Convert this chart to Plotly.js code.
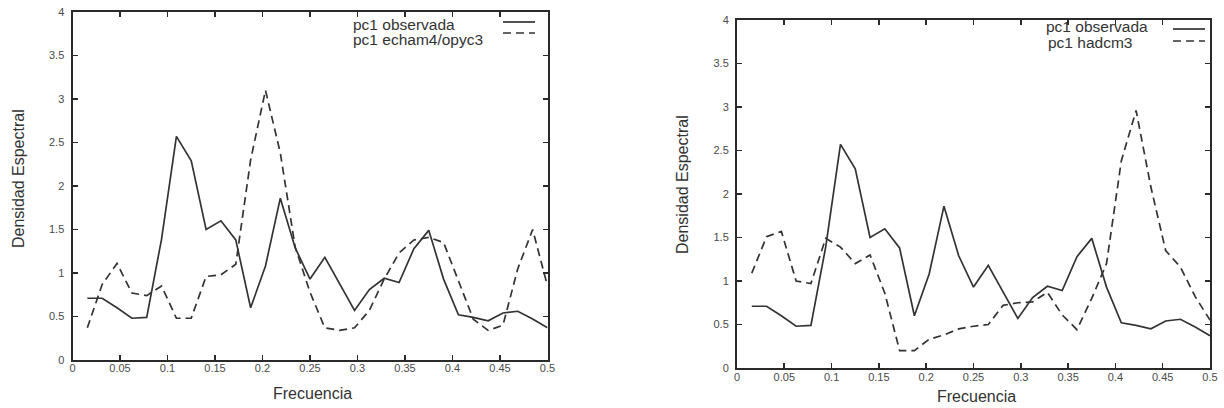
<!DOCTYPE html>
<html><head><meta charset="utf-8">
<script src="https://cdn.plot.ly/plotly-3.0.1.min.js"></script>
<style>html,body{margin:0;padding:0;background:#fff}#chart{width:1224px;height:408px}</style>
</head><body><div id="chart"></div>
<script>
// ---- data ----
const frecuencia = [0.015625,0.03125,0.046875,0.0625,0.078125,0.09375,0.109375,0.125,
  0.140625,0.15625,0.171875,0.1875,0.203125,0.21875,0.234375,0.25,
  0.265625,0.28125,0.296875,0.3125,0.328125,0.34375,0.359375,0.375,
  0.390625,0.40625,0.421875,0.4375,0.453125,0.46875,0.484375,0.5];
const observada = [0.71,0.71,0.60,0.48,0.49,1.39,2.57,2.29,1.50,1.60,1.38,0.60,1.08,1.86,1.29,0.93,
  1.18,0.88,0.57,0.81,0.94,0.89,1.28,1.49,0.93,0.52,0.49,0.45,0.54,0.56,0.47,0.37];
const echam = [0.37,0.87,1.11,0.77,0.74,0.85,0.48,0.48,0.96,0.98,1.10,2.30,3.10,2.38,1.30,0.78,
  0.37,0.34,0.37,0.57,0.93,1.23,1.38,1.41,1.35,0.90,0.47,0.34,0.40,1.05,1.50,0.85];
const hadcm3 = [1.09,1.51,1.57,1.00,0.97,1.49,1.39,1.20,1.30,0.86,0.20,0.20,0.33,0.38,0.45,0.48,
  0.50,0.72,0.75,0.76,0.87,0.61,0.44,0.80,1.20,2.38,2.96,2.08,1.35,1.16,0.82,0.55];
const xTicks = [0,0.05,0.1,0.15,0.2,0.25,0.3,0.35,0.4,0.45,0.5];
const xTickText = ['0','0.05','0.1','0.15','0.2','0.25','0.3','0.35','0.4','0.45','0.5'];
const yTicks = [0,0.5,1,1.5,2,2.5,3,3.5,4];
const yTickText = ['0','0.5','1','1.5','2','2.5','3','3.5','4'];
const nombreObs = 'pc1 observada';
const nombreEcham = 'pc1 echam4/opyc3';
const nombreHad = 'pc1 hadcm3';
const tituloX = 'Frecuencia';
const tituloY = 'Densidad Espectral';

// ---- styles ----
const W = 1224, H = 408;
const ink = '#2a2a2a';
const solid = {color: '#333', width: 1.7};
const dashed = {color: '#333', width: 1.7, dash: '8px,5px'};
const FONT = 'Liberation Sans, Arial, sans-serif';

const traces = [
  {x: frecuencia, y: observada, mode: 'lines', line: solid, name: nombreObs, xaxis: 'x', yaxis: 'y'},
  {x: frecuencia, y: echam, mode: 'lines', line: dashed, name: nombreEcham, xaxis: 'x', yaxis: 'y'},
  {x: frecuencia, y: observada, mode: 'lines', line: solid, name: nombreObs, xaxis: 'x2', yaxis: 'y2'},
  {x: frecuencia, y: hadcm3, mode: 'lines', line: dashed, name: nombreHad, xaxis: 'x2', yaxis: 'y2'}
];

function axis(extra) {
  return Object.assign({
    showline: true, linewidth: 2, linecolor: ink, mirror: 'allticks',
    ticks: 'inside', ticklen: 5, tickwidth: 1.6, tickcolor: ink,
    showgrid: false, zeroline: false, fixedrange: true, ticklabelstandoff: 4,
    tickfont: {family: FONT, size: 11, color: '#4a4a4a'}
  }, extra);
}

const px = v => v / W;
const py = v => 1 - v / H;

const L = {x0: 72.5, x1: 547.5, y0: 12, y1: 360};
const R = {x0: 737, x1: 1210, y0: 20, y1: 368};

function label(text, x, y, opts) {
  return Object.assign({text: text, xref: 'paper', yref: 'paper', x: px(x), y: py(y),
    xanchor: 'center', yanchor: 'middle', showarrow: false, font: {size: 16, color: '#333'}}, opts || {});
}
const legFont = {size: 15.5, color: '#333'};

const layout = {
  width: W, height: H, showlegend: false,
  margin: {l: 0, r: 0, t: 0, b: 0},
  paper_bgcolor: '#fff', plot_bgcolor: '#fff',
  font: {family: FONT, color: '#333'},
  xaxis: axis({domain: [px(L.x0), px(L.x1)], range: [0, 0.5], tickvals: xTicks, ticktext: xTickText, anchor: 'y', ticklabelstandoff: -3}),
  yaxis: axis({domain: [py(L.y1), py(L.y0)], range: [0, 4], tickvals: yTicks, ticktext: yTickText, anchor: 'x'}),
  xaxis2: axis({domain: [px(R.x0), px(R.x1)], range: [0, 0.5], tickvals: xTicks, ticktext: xTickText, anchor: 'y2', ticklabelstandoff: -2}),
  yaxis2: axis({domain: [py(R.y1), py(R.y0)], range: [0, 4], tickvals: yTicks, ticktext: yTickText, anchor: 'x2'}),
  annotations: [
    label(tituloX, 312, 393),
    label(tituloY, 18, 179, {textangle: -90}),
    label(tituloX, 976, 396),
    label(tituloY, 683, 185, {textangle: -90}),
    label(nombreObs, 351, 24, {xanchor: 'left', font: legFont}),
    label(nombreEcham, 351, 40, {xanchor: 'left', font: legFont}),
    label(nombreObs, 1044, 27, {xanchor: 'left', font: legFont}),
    label(nombreHad, 1046, 43, {xanchor: 'left', font: legFont})
  ],
  shapes: [
    {type: 'line', xref: 'paper', yref: 'paper', x0: px(503), x1: px(535), y0: py(22), y1: py(22), line: solid},
    {type: 'line', xref: 'paper', yref: 'paper', x0: px(503), x1: px(535), y0: py(33), y1: py(33), line: dashed},
    {type: 'line', xref: 'paper', yref: 'paper', x0: px(1173), x1: px(1205), y0: py(29), y1: py(29), line: solid},
    {type: 'line', xref: 'paper', yref: 'paper', x0: px(1173), x1: px(1205), y0: py(41), y1: py(41), line: dashed}
  ]
};

Plotly.newPlot('chart', traces, layout, {staticPlot: true, displayModeBar: false});
</script>
</body></html>
